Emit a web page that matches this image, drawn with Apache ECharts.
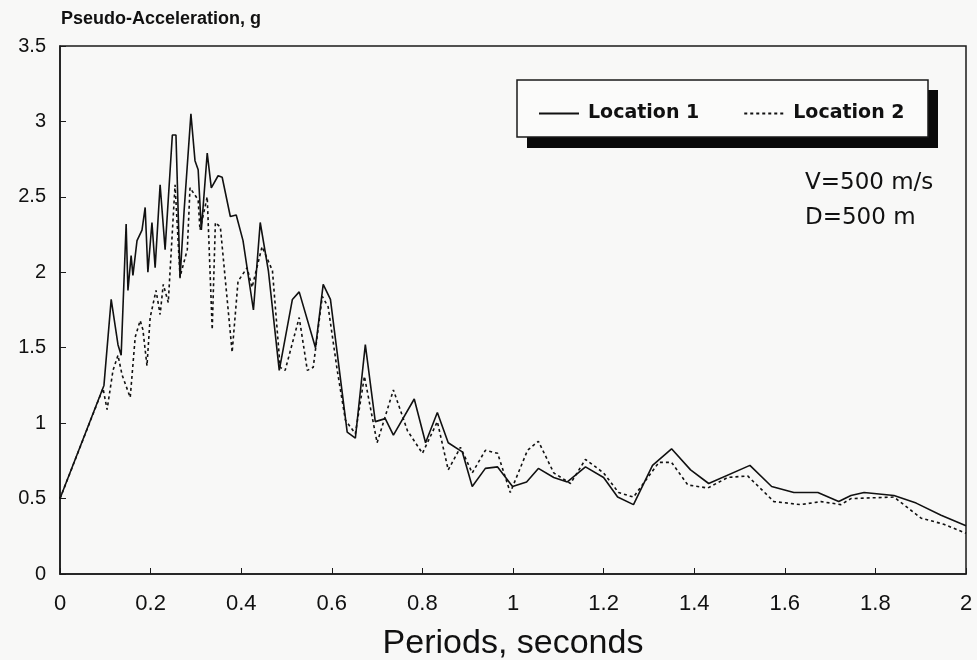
<!DOCTYPE html>
<html>
<head>
<meta charset="utf-8">
<script src="https://cdn.jsdelivr.net/npm/echarts@6/dist/echarts.min.js"></script>
<style>html,body{margin:0;padding:0;background:#f8f8f7;}#c{width:977px;height:660px;}</style>
</head>
<body>
<div id="c"></div>
<script>
// Location 1 (solid): periods (s) and pseudo-acceleration (g)
var loc1Periods = [0,0.097,0.113,0.128,0.135,0.146,0.150,0.157,0.161,0.170,0.181,0.188,0.194,0.203,0.210,0.221,0.232,0.248,0.256,0.265,0.274,0.289,0.298,0.305,0.312,0.325,0.334,0.349,0.358,0.376,0.389,0.404,0.427,0.442,0.460,0.484,0.513,0.528,0.564,0.581,0.597,0.634,0.652,0.674,0.696,0.718,0.736,0.782,0.807,0.833,0.857,0.888,0.910,0.939,0.966,0.999,1.030,1.056,1.090,1.120,1.160,1.200,1.231,1.266,1.308,1.350,1.392,1.432,1.523,1.571,1.620,1.673,1.719,1.746,1.775,1.841,1.890,1.945,2.0];
var loc1Values  = [0.5,1.25,1.82,1.52,1.45,2.32,1.88,2.11,1.98,2.21,2.28,2.43,2.00,2.33,2.03,2.58,2.15,2.91,2.91,1.96,2.41,3.05,2.74,2.68,2.28,2.79,2.56,2.64,2.63,2.37,2.38,2.21,1.75,2.33,2.01,1.35,1.82,1.87,1.50,1.92,1.82,0.94,0.90,1.52,1.01,1.03,0.92,1.16,0.87,1.07,0.87,0.81,0.58,0.70,0.71,0.58,0.61,0.70,0.64,0.61,0.71,0.64,0.51,0.46,0.72,0.83,0.69,0.60,0.72,0.58,0.54,0.54,0.48,0.52,0.54,0.52,0.47,0.39,0.32];
// Location 2 (dashed)
var loc2Periods = [0,0.095,0.104,0.117,0.128,0.137,0.155,0.166,0.177,0.183,0.192,0.199,0.212,0.221,0.228,0.239,0.254,0.265,0.281,0.287,0.305,0.309,0.325,0.336,0.343,0.354,0.380,0.393,0.413,0.424,0.446,0.469,0.486,0.497,0.528,0.546,0.559,0.579,0.592,0.612,0.630,0.652,0.672,0.700,0.736,0.767,0.800,0.833,0.857,0.884,0.910,0.939,0.966,0.994,1.032,1.056,1.090,1.127,1.160,1.200,1.233,1.266,1.322,1.350,1.386,1.430,1.474,1.518,1.576,1.635,1.680,1.724,1.746,1.841,1.901,1.951,2.0];
var loc2Values  = [0.5,1.23,1.09,1.35,1.45,1.32,1.17,1.57,1.68,1.62,1.38,1.70,1.88,1.72,1.92,1.80,2.58,1.97,2.15,2.56,2.48,2.28,2.50,1.62,2.33,2.30,1.47,1.94,2.03,1.90,2.17,2.01,1.37,1.35,1.70,1.35,1.37,1.84,1.77,1.35,1.02,0.93,1.31,0.87,1.22,0.95,0.80,1.01,0.69,0.84,0.67,0.82,0.80,0.54,0.82,0.88,0.67,0.60,0.76,0.67,0.54,0.51,0.74,0.74,0.59,0.57,0.64,0.65,0.48,0.46,0.48,0.46,0.50,0.51,0.37,0.33,0.27];
var seriesNames = ['Location 1','Location 2'];
var yTitle = 'Pseudo-Acceleration, g';
var xTitle = 'Periods, seconds';
var noteLines = ['V=500 m/s','D=500 m'];

function zip(a,b){var r=[];for(var i=0;i<a.length;i++)r.push([a[i],b[i]]);return r;}

var FONT = "'Liberation Sans', Arial, sans-serif";
var WIDE = "'DejaVu Sans', 'Liberation Sans', sans-serif";
var chart = echarts.init(document.getElementById('c'));
chart.setOption({
  backgroundColor: '#f8f8f7',
  animation: false,
  grid: {left: 60, right: 11, top: 46, bottom: 86, outerBoundsMode: 'none', containLabel: false,
    show: true, borderColor: '#1a1a1a', borderWidth: 1.5, backgroundColor: 'transparent'},
  xAxis: {
    type: 'value', min: 0, max: 2, interval: 0.2,
    name: xTitle, nameLocation: 'middle', nameGap: 53,
    nameTextStyle: {fontFamily: FONT, fontSize: 34, color: '#111'},
    axisLine: {lineStyle: {color: '#1a1a1a', width: 1.5}},
    axisTick: {inside: true, length: 6, lineStyle: {color: '#1a1a1a'}},
    axisLabel: {margin: 19, fontFamily: "'Liberation Sans Narrow', " + FONT, fontSize: 22, color: '#111',
      formatter: function(v){return String(Math.round(v*10)/10);}},
    splitLine: {show: false}
  },
  yAxis: {
    type: 'value', min: 0, max: 3.5, interval: 0.5,
    axisLine: {show: true, lineStyle: {color: '#1a1a1a', width: 1.5}},
    axisTick: {show: true, inside: true, length: 6, lineStyle: {color: '#1a1a1a'}},
    axisLabel: {margin: 14, fontFamily: FONT, fontSize: 20, color: '#111'},
    splitLine: {show: false}
  },
  legend: {
    left: 533, top: 99, itemWidth: 40, itemHeight: 10, itemGap: 44,
    itemStyle: {opacity: 0},
    textStyle: {fontFamily: WIDE, fontSize: 19, fontWeight: 'bold', color: '#111', padding: [0, 0, 0, 4]},
    data: seriesNames, z: 10
  },
  graphic: [
    {type: 'rect', z: 5, shape: {x: 527, y: 90, width: 411, height: 58}, style: {fill: '#0a0a0a'}},
    {type: 'rect', z: 6, shape: {x: 517, y: 80, width: 411, height: 57}, style: {fill: '#fbfbfa', stroke: '#1a1a1a', lineWidth: 1.5}},
    {type: 'text', z: 6, left: 61, top: 10, style: {text: yTitle, font: "bold 18px " + FONT, fill: '#111'}},
    {type: 'text', z: 6, left: 805, top: 172, style: {text: noteLines[0], font: "23px " + WIDE, fill: '#111'}},
    {type: 'text', z: 6, left: 805, top: 207, style: {text: noteLines[1], font: "23px " + WIDE, fill: '#111'}}
  ],
  series: [
    {name: seriesNames[0], type: 'line', symbol: 'none', data: zip(loc1Periods, loc1Values),
      lineStyle: {color: '#111', width: 1.6}, itemStyle: {color: '#111'}},
    {name: seriesNames[1], type: 'line', symbol: 'none', data: zip(loc2Periods, loc2Values),
      lineStyle: {color: '#111', width: 1.6, type: [3, 3]}, itemStyle: {color: '#111'}}
  ]
});
</script>
</body>
</html>
